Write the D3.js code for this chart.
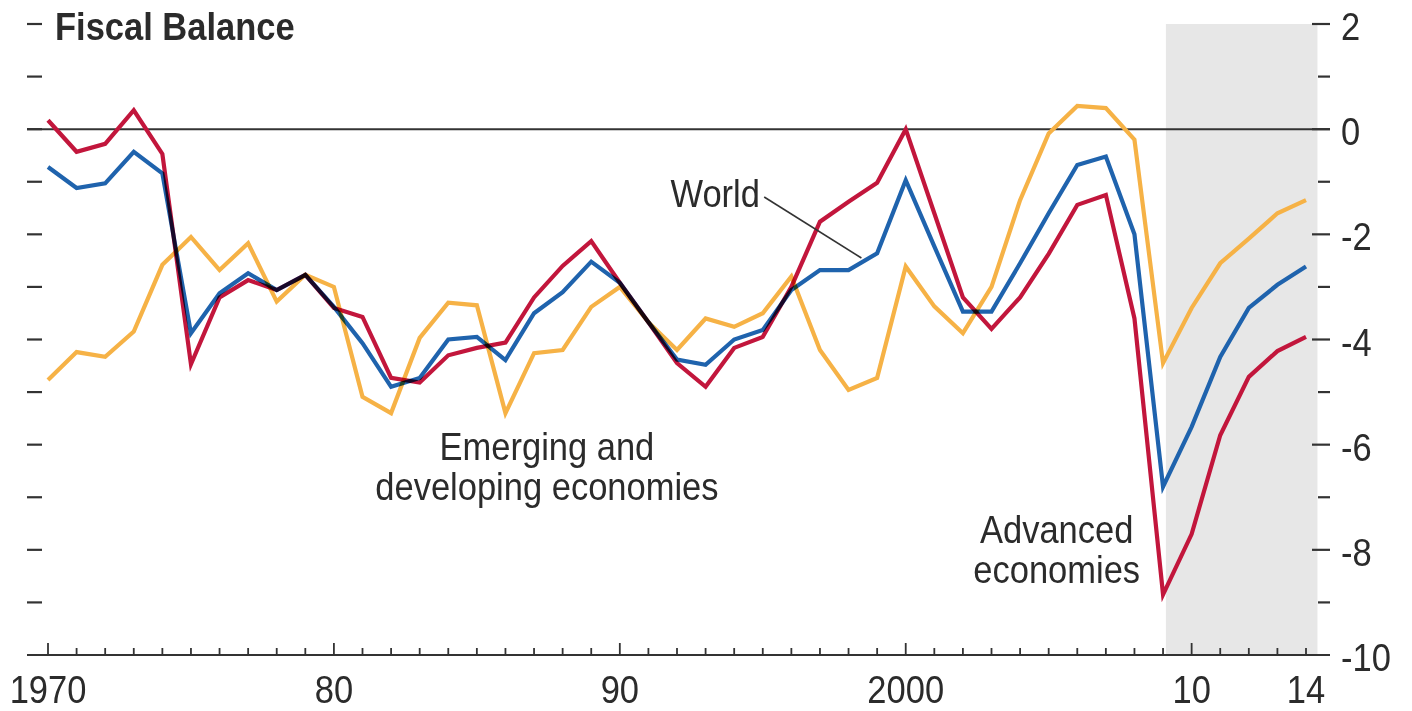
<!DOCTYPE html>
<html>
<head>
<meta charset="utf-8">
<script src="https://cdn.jsdelivr.net/npm/d3@7"></script>
<style>
  html, body { margin: 0; padding: 0; background: #ffffff; }
  svg { display: block; }
  text { font-family: "Liberation Sans", Arial, Helvetica, sans-serif; fill: #2b2b2b; }
</style>
</head>
<body>
<svg id="chart" width="1412" height="711"></svg>
<script>
// ---------- data ----------
const years = [1970,1971,1972,1973,1974,1975,1976,1977,1978,1979,
               1980,1981,1982,1983,1984,1985,1986,1987,1988,1989,
               1990,1991,1992,1993,1994,1995,1996,1997,1998,1999,
               2000,2001,2002,2003,2004,2005,2006,2007,2008,2009,
               2010,2011,2012,2013,2014];

const emerging = [-4.77,-4.24,-4.33,-3.85,-2.58,-2.05,-2.68,-2.17,-3.28,-2.77,
                  -3.00,-5.09,-5.40,-3.97,-3.30,-3.35,-5.40,-4.26,-4.20,-3.38,
                  -3.00,-3.67,-4.20,-3.60,-3.76,-3.50,-2.80,-4.20,-4.96,-4.73,
                  -2.61,-3.37,-3.88,-3.00,-1.35,-0.08,0.44,0.40,-0.20,-4.45,
                  -3.40,-2.55,-2.08,-1.60,-1.35];

const world = [-0.72,-1.12,-1.03,-0.43,-0.84,-3.88,-3.12,-2.74,-3.06,-2.77,
               -3.38,-4.07,-4.90,-4.73,-4.00,-3.95,-4.39,-3.50,-3.10,-2.52,
               -2.92,-3.67,-4.38,-4.48,-4.00,-3.82,-3.06,-2.68,-2.68,-2.36,
               -0.97,-2.23,-3.47,-3.47,-2.55,-1.60,-0.68,-0.52,-2.00,-6.80,
               -5.66,-4.33,-3.40,-2.96,-2.61];

const advanced = [0.17,-0.43,-0.28,0.36,-0.47,-4.47,-3.20,-2.87,-3.06,-2.77,
                  -3.40,-3.57,-4.73,-4.82,-4.30,-4.16,-4.06,-3.20,-2.60,-2.13,
                  -2.92,-3.67,-4.45,-4.90,-4.16,-3.95,-3.00,-1.76,-1.38,-1.02,
                  0.00,-1.60,-3.20,-3.80,-3.20,-2.37,-1.44,-1.25,-3.60,-8.85,
                  -7.70,-5.82,-4.71,-4.22,-3.95];

const xTickLabels = [[1970,"1970"],[1980,"80"],[1990,"90"],[2000,"2000"],[2010,"10"],[2014,"14"]];
const yTickLabels = [[2,"2"],[0,"0"],[-2,"-2"],[-4,"-4"],[-6,"-6"],[-8,"-8"],[-10,"-10"]];
const yMinorTicks = [2,1,0,-1,-2,-3,-4,-5,-6,-7,-8,-9];
const shadeYears = [2009.1, 2014.4];

const title = "Fiscal Balance";
// annotations in data units: [year, value]
const labels = [
  {lines:["World"], x:1994.9, y:-1.48, anchor:"end"},
  {lines:["Emerging and","developing economies"], x:1987.45, y:-6.29, anchor:"middle"},
  {lines:["Advanced","economies"], x:2005.28, y:-7.87, anchor:"middle"}
];
const worldLeader = [[1995.05,-1.29],[1998.45,-2.45]];

// ---------- layout ----------
const svg = d3.select("#chart");
const x = d3.scaleLinear().domain([1970, 2014]).range([48, 1306]);
const y = d3.scaleLinear().domain([-10, 2]).range([655, 24]);
const axisLeftX = 27, axisRightX = 1330;
const FS = 34.5, VS = 1.13; // font size and vertical stretch
const lineGap = 40;

function stretchedText(g, str, tx, ty, anchor, weight, size) {
  return g.append("text")
    .attr("transform", `translate(${tx},${ty}) scale(1,${VS})`)
    .attr("text-anchor", anchor || "start")
    .attr("font-size", size || FS)
    .attr("font-weight", weight || "normal")
    .text(str);
}

// shaded projection area
svg.append("rect")
  .attr("x", x(shadeYears[0]))
  .attr("y", y(2))
  .attr("width", x(shadeYears[1]) - x(shadeYears[0]))
  .attr("height", y(-10) - y(2))
  .attr("fill", "#e7e7e7");

// left minor dashes
svg.append("g").selectAll("line").data(yMinorTicks).join("line")
  .attr("x1", axisLeftX).attr("x2", axisLeftX + 15)
  .attr("y1", d => y(d)).attr("y2", d => y(d))
  .attr("stroke", "#333").attr("stroke-width", 2.2);

// right ticks
svg.append("g").selectAll("line").data(yMinorTicks).join("line")
  .attr("x1", d => (d % 2 === 0 ? axisRightX - 18 : axisRightX - 12)).attr("x2", axisRightX)
  .attr("y1", d => y(d)).attr("y2", d => y(d))
  .attr("stroke", "#333").attr("stroke-width", 2.2);

// zero line
svg.append("line")
  .attr("x1", axisLeftX).attr("x2", axisRightX)
  .attr("y1", y(0)).attr("y2", y(0))
  .attr("stroke", "#333").attr("stroke-width", 2);

// x axis baseline and ticks
svg.append("line")
  .attr("x1", axisLeftX).attr("x2", axisRightX)
  .attr("y1", y(-10)).attr("y2", y(-10))
  .attr("stroke", "#333").attr("stroke-width", 2.2);
svg.append("g").selectAll("line").data(years).join("line")
  .attr("x1", d => x(d)).attr("x2", d => x(d))
  .attr("y1", y(-10)).attr("y2", d => y(-10) - (d % 10 === 0 ? 12 : 7))
  .attr("stroke", "#333").attr("stroke-width", 1.8);

// x labels
const xl = svg.append("g");
xTickLabels.forEach(([v, s]) => stretchedText(xl, s, x(v), 703, "middle"));

// y labels (right)
const yl = svg.append("g");
yTickLabels.forEach(([v, s]) => stretchedText(yl, s, 1341, y(v) + 16, "start"));

// title
stretchedText(svg, title, 55, 40, "start", "bold", 34.5).attr("fill", "#26261f");

// lines (isolated group so overlaps darken only each other)
const lineGen = d3.line().x((d, i) => x(years[i])).y(d => y(d));
const series = [
  {vals: emerging, color: "#f6b246"},
  {vals: world, color: "#1f63ad"},
  {vals: advanced, color: "#c2163c"}
];
const lg = svg.append("g").style("isolation", "isolate");
series.forEach(s => {
  lg.append("path")
    .attr("d", lineGen(s.vals))
    .attr("fill", "none")
    .attr("stroke", s.color)
    .attr("stroke-width", 4.2)
    .attr("stroke-linejoin", "miter")
    .style("mix-blend-mode", "multiply");
});

// World leader line
svg.append("line")
  .attr("x1", x(worldLeader[0][0])).attr("y1", y(worldLeader[0][1]))
  .attr("x2", x(worldLeader[1][0])).attr("y2", y(worldLeader[1][1]))
  .attr("stroke", "#333").attr("stroke-width", 1.6);

// annotation labels
const al = svg.append("g");
labels.forEach(l => {
  l.lines.forEach((s, i) => stretchedText(al, s, x(l.x), y(l.y) + i * lineGap, l.anchor));
});
</script>
</body>
</html>
